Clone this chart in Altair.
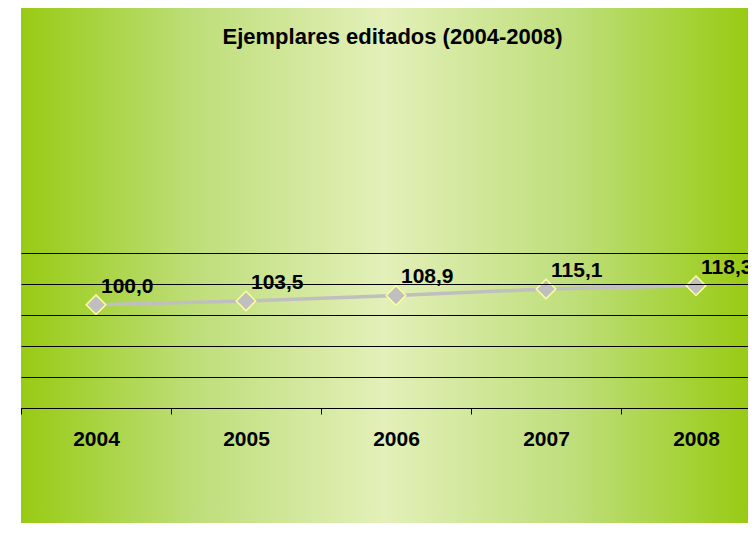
import altair as alt
import pandas as pd

years = [2004, 2005, 2006, 2007, 2008]
values = [100.0, 103.5, 108.9, 115.1, 118.3]
labels = ["100,0", "103,5", "108,9", "115,1", "118,3"]
title_text = "Ejemplares editados (2004-2008)"
y_grid = [0, 30, 60, 90, 120, 150]

df = pd.DataFrame({"year": years, "value": values, "label": labels})

W, H = 727, 155
PAD_L, PAD_T, PAD_B = 13, 245, 115
FONT = "Liberation Sans"

x_enc = alt.X(
    "year:Q",
    scale=alt.Scale(domain=[2003.5, 2003.5 + W / 150], nice=False, zero=False),
    axis=alt.Axis(
        values=years, tickOffset=-75, labelOffset=75, format="d", title=None,
        grid=False, domainColor="black", domainWidth=1, tickColor="black",
        tickSize=6, tickWidth=1, labelFont=FONT, labelFontSize=21,
        labelFontWeight="bold", labelColor="black", labelPadding=14,
        labelFlush=False, labelOverlap=False, labelBound=False, zindex=1,
    ),
)
y_enc = alt.Y(
    "value:Q",
    scale=alt.Scale(domain=[0, 150], nice=False, zero=False),
    axis=alt.Axis(
        values=y_grid, grid=True, gridColor="black", gridWidth=1,
        labels=False, ticks=False, domain=False, title=None, zindex=1,
    ),
)

bg = alt.Chart(pd.DataFrame({"a": [0]})).mark_rect(
    color=alt.LinearGradient(
        gradient="linear",
        stops=[
            alt.GradientStop(color="#98CB14", offset=0),
            alt.GradientStop(color="#BEDE7A", offset=0.24),
            alt.GradientStop(color="#E3F0B9", offset=0.5),
            alt.GradientStop(color="#BEDE7A", offset=0.76),
            alt.GradientStop(color="#98CB14", offset=1),
        ],
        x1=0, x2=1, y1=0, y2=0,
    )
).encode(
    x=alt.value(0), x2=alt.value(W),
    y=alt.value(-PAD_T), y2=alt.value(H + PAD_B),
)

base = alt.Chart(df).encode(x=x_enc, y=y_enc)

line = base.mark_line(color="#BFBFBF", strokeWidth=3.5)
pts = base.mark_point(
    shape="diamond", filled=True, fill="#BFBFBF", stroke="#FFFF99",
    strokeWidth=1.5, size=380, opacity=1,
)
txt = base.mark_text(
    align="left", baseline="alphabetic", dx=5, dy=-12,
    font=FONT, fontSize=21, fontWeight="bold", color="black",
).encode(text="label:N")

chart = alt.layer(bg, line, pts, txt).properties(
    width=W, height=H,
    title=alt.TitleParams(
        title_text, font=FONT, fontSize=22, fontWeight="bold", color="black",
        anchor="middle", baseline="alphabetic", offset=-58, dx=8,
    ),
    padding={"left": PAD_L, "top": PAD_T, "right": 0, "bottom": PAD_B},
    autosize=alt.AutoSizeParams(type="none"),
    background="white",
).configure_view(stroke=None)

chart.save("out.html", embed_options={"renderer": "svg", "actions": False})
